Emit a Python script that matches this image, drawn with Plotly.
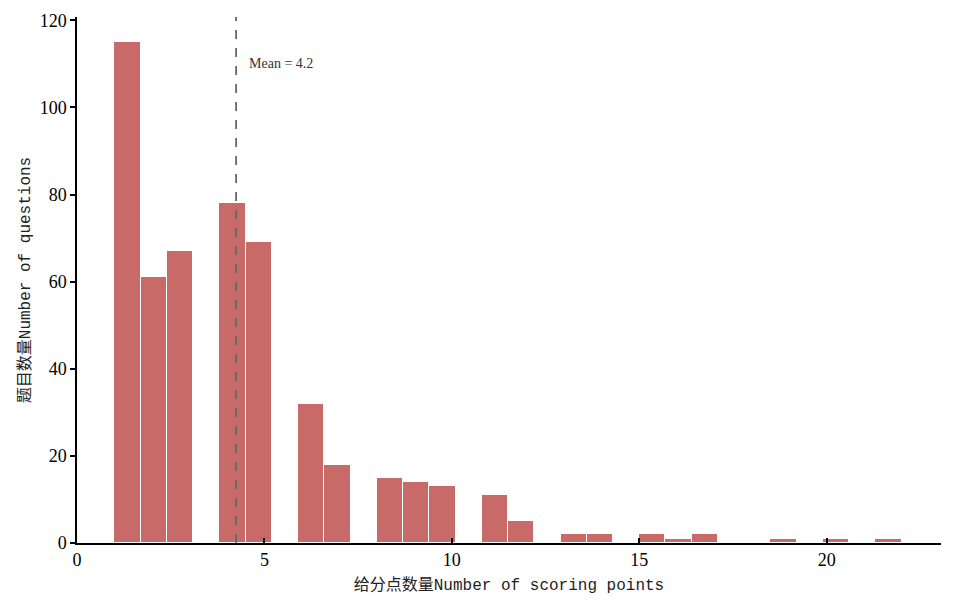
import numpy as np
import plotly.graph_objects as go

# scoring-point values and number of questions with each value
points = [1, 2, 3, 4, 5, 6, 7, 8, 9, 10, 11, 12, 13, 14, 15, 16, 17, 19, 20, 22]
questions = [115, 61, 67, 78, 69, 32, 18, 15, 14, 13, 11, 5, 2, 2, 2, 1, 2, 1, 1, 1]
n_bins = 30

vals = np.array(points, dtype=float)
cnts = np.array(questions, dtype=float)
hist, edges = np.histogram(vals, bins=n_bins, range=(vals.min(), vals.max()), weights=cnts)
width = edges[1] - edges[0]
mean_val = float((vals * cnts).sum() / cnts.sum())

fig = go.Figure()
fig.add_trace(go.Bar(
    x=edges[:-1], y=hist, width=width, offset=0,
    marker=dict(color="#C86A67", line=dict(color="white", width=1)),
    showlegend=False,
))

fig.add_shape(type="line", xref="x", yref="paper", x0=mean_val, x1=mean_val, y0=0, y1=1,
              line=dict(color="#666666", width=1.8, dash="dash"))
fig.add_annotation(x=mean_val + 0.3, y=110, xref="x", yref="y", text=f"Mean = {mean_val:.1f}",
                   showarrow=False, xanchor="left", yanchor="middle",
                   font=dict(family="Liberation Serif", size=14, color="#333333"))

title_font = dict(family="Liberation Mono, Noto Sans CJK SC", size=16, color="#222222")
tick_font = dict(family="Liberation Serif", size=18, color="black")

fig.update_layout(
    width=954, height=607,
    margin=dict(l=69, r=21, t=9, b=72),
    plot_bgcolor="white", paper_bgcolor="white",
    bargap=0,
    xaxis=dict(range=[0, 23.05], tickvals=[0, 5, 10, 15, 20], showgrid=False, zeroline=False,
               automargin=False,
               showline=True, linecolor="black", linewidth=1.5,
               ticks="inside", ticklen=5, tickcolor="black", tickwidth=1.5,
               tickfont=tick_font,
               title=dict(text="给分点数量Number of scoring points", font=title_font, standoff=9)),
    yaxis=dict(range=[0, 120.75], tickvals=[0, 20, 40, 60, 80, 100, 120], showgrid=False, zeroline=False,
               automargin=False,
               showline=True, linecolor="black", linewidth=1.5,
               ticks="outside", ticklen=5, tickcolor="black", tickwidth=1.5,
               tickfont=tick_font,
               title=dict(text="题目数量Number of questions", font=title_font, standoff=5)),
)

fig.write_html("out.html")
